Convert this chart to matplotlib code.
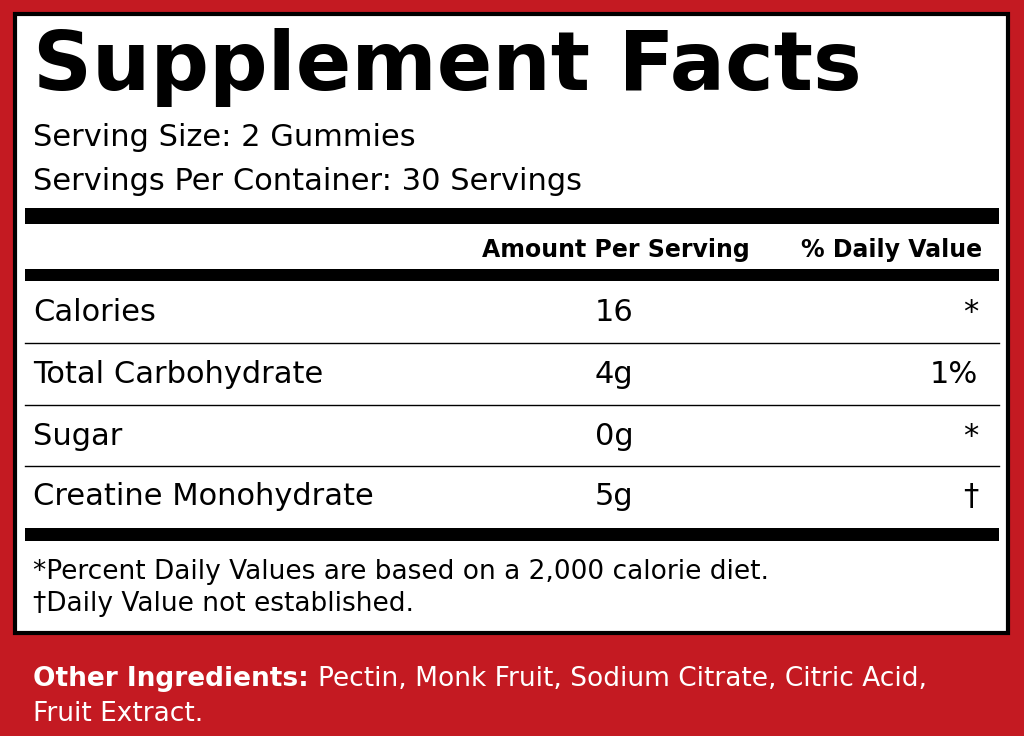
import matplotlib.pyplot as plt
from matplotlib.patches import Rectangle

# label content
nutrients = ["Calories", "Total Carbohydrate", "Sugar", "Creatine Monohydrate"]
amounts = ["16", "4g", "0g", "5g"]
daily_values = ["*", "1%", "*", "\u2020"]
serving_lines = ["Serving Size: 2 Gummies", "Servings Per Container: 30 Servings"]
footnotes = ["*Percent Daily Values are based on a 2,000 calorie diet.",
             "\u2020Daily Value not established."]
ingredients = "Pectin, Monk Fruit, Sodium Citrate, Citric Acid,"
ingredients2 = "Fruit Extract."

plt.rcParams['font.family'] = ['DejaVu Sans']

fig = plt.figure(figsize=(10.24, 7.36), dpi=100)
fig.patch.set_facecolor('#c41a22')
ax = fig.add_axes([0, 0, 1, 1])
ax.set_xlim(0, 1024)
ax.set_ylim(736, 0)
ax.axis('off')

# white panel
ax.add_patch(Rectangle((15, 14), 993, 619, facecolor='white', edgecolor='black', lw=3))

ax.text(33, 90, "Supplement Facts", fontsize=59, fontweight='heavy', va='baseline', ha='left')
for i, s in enumerate(serving_lines):
    ax.text(33, 146 + i * 44, s, fontsize=22, va='baseline', ha='left')

def bar(y0, h):
    ax.add_patch(Rectangle((25, y0), 974, h, facecolor='black', edgecolor='none'))

bar(208, 16)
ax.text(750, 257, "Amount Per Serving", fontsize=17, fontweight='bold', ha='right', va='baseline')
ax.text(982, 257, "% Daily Value", fontsize=17, fontweight='bold', ha='right', va='baseline')
bar(269, 12)

row_y = [321, 383, 445, 505]
for i, (n, a, d) in enumerate(zip(nutrients, amounts, daily_values)):
    y = row_y[i]
    ax.text(33, y, n, fontsize=22, ha='left', va='baseline')
    ax.text(595, y, a, fontsize=22, ha='left', va='baseline')
    ax.text(978, y, d, fontsize=22, ha='right', va='baseline')
    if i < len(nutrients) - 1:
        ax.plot([25, 999], [(row_y[i] + row_y[i + 1]) / 2 - 9] * 2, color='black', lw=1)
bar(528, 13)

for i, f in enumerate(footnotes):
    ax.text(33, 579 + i * 32, f, fontsize=19, ha='left', va='baseline')

t = ax.text(33, 686, "Other Ingredients: ", fontsize=19, fontweight='bold',
            color='white', ha='left', va='baseline')
fig.canvas.draw()
bb = t.get_window_extent()
x_px = bb.x1
ax.text(x_px, 686, ingredients, fontsize=19, color='white', ha='left', va='baseline')
ax.text(33, 721, ingredients2, fontsize=19, color='white', ha='left', va='baseline')

fig.savefig('out.png', dpi=100, facecolor=fig.get_facecolor())
